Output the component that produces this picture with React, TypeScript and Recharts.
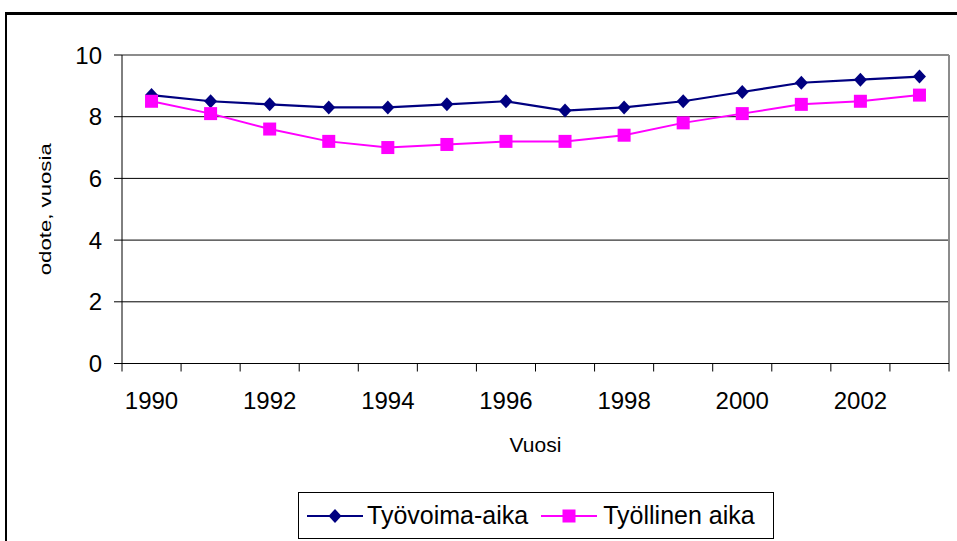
import React from 'react';
import { LineChart, Line, XAxis, YAxis, CartesianGrid, ReferenceLine } from 'recharts';

const years = [1990, 1991, 1992, 1993, 1994, 1995, 1996, 1997, 1998, 1999, 2000, 2001, 2002, 2003];
const tyovoimaAika = [8.7, 8.5, 8.4, 8.3, 8.3, 8.4, 8.5, 8.2, 8.3, 8.5, 8.8, 9.1, 9.2, 9.3];
const tyollinenAika = [8.5, 8.1, 7.6, 7.2, 7.0, 7.1, 7.2, 7.2, 7.4, 7.8, 8.1, 8.4, 8.5, 8.7];
const yTicks = [0, 2, 4, 6, 8, 10];
const xLabelYears = [1990, 1992, 1994, 1996, 1998, 2000, 2002];
const seriesNames = ['Työvoima-aika', 'Työllinen aika'];
const seriesColors = ['#000080', '#FF00FF'];
const yAxisTitle = 'odote, vuosia';
const xAxisTitle = 'Vuosi';

const FONT = "'Liberation Sans', Arial, sans-serif";

const data = years.map((year, i) => ({ i, year, tv: tyovoimaAika[i], ty: tyollinenAika[i] }));
const boundaries = years.map((_, k) => k - 0.5).concat([years.length - 0.5]);
const labelTicks = xLabelYears.map((y) => years.indexOf(y));
const xDomain = [-0.5, years.length - 0.5];

const diamondPath = (cx: number, cy: number) =>
  `M${cx},${cy - 7}L${cx + 6.5},${cy}L${cx},${cy + 7}L${cx - 6.5},${cy}Z`;

const DiamondDot = (p: any) => {
  const { cx, cy, index } = p;
  if (cx == null || cy == null) return <g key={`d${index}`} />;
  return <path key={`d${index}`} d={diamondPath(cx, cy)} fill={seriesColors[0]} />;
};

const SquareDot = (p: any) => {
  const { cx, cy, index } = p;
  if (cx == null || cy == null) return <g key={`s${index}`} />;
  return <rect key={`s${index}`} x={cx - 6.5} y={cy - 6.5} width={13} height={13} fill={seriesColors[1]} />;
};

const YTitle = (props: any) => {
  const vb = props.viewBox || {};
  const cx = vb.x + 9;
  const cy = vb.y + vb.height / 2;
  return (
    <text
      x={cx}
      y={cy}
      transform={`rotate(-90 ${cx} ${cy})`}
      textAnchor="middle"
      fontFamily={FONT}
      fontSize={17}
      fill="#000"
      textLength={132}
      lengthAdjust="spacingAndGlyphs"
    >
      {yAxisTitle}
    </text>
  );
};

const XTitle = (props: any) => {
  const vb = props.viewBox || {};
  return (
    <text x={vb.x + vb.width / 2} y={vb.y + 80.5} textAnchor="middle" fontFamily={FONT} fontSize={21} fill="#000">
      {xAxisTitle}
    </text>
  );
};

const LegendBox = () => (
  <div
    style={{
      position: 'absolute',
      left: 298,
      top: 492,
      width: 476,
      height: 47,
      border: '1px solid #000',
      boxSizing: 'border-box',
      display: 'flex',
      alignItems: 'center',
      fontFamily: FONT,
      fontSize: 25,
      color: '#000',
      background: '#fff',
      paddingLeft: 8,
      whiteSpace: 'nowrap',
    }}
  >
    {seriesNames.map((name, k) => (
      <React.Fragment key={name}>
        <svg width={56} height={20} style={{ marginLeft: k === 0 ? 0 : 13, flex: 'none' }}>
          <line x1={0} y1={10} x2={56} y2={10} stroke={seriesColors[k]} strokeWidth={2} />
          {k === 0 ? (
            <path d={diamondPath(28, 10)} fill={seriesColors[k]} />
          ) : (
            <rect x={21.5} y={3.5} width={13} height={13} fill={seriesColors[k]} />
          )}
        </svg>
        <span style={{ marginLeft: k === 0 ? 4 : 6, lineHeight: '25px' }}>{name}</span>
      </React.Fragment>
    ))}
  </div>
);

export default function App() {
  return (
    <div
      style={{
        position: 'absolute',
        left: 0,
        top: 0,
        width: 957,
        height: 541,
        overflow: 'hidden',
        background: '#fff',
      }}
    >
      <div
        style={{
          position: 'absolute',
          left: 5,
          top: 12,
          width: 1100,
          height: 700,
          borderLeft: '2px solid #000',
          borderTop: '3px solid #000',
        }}
      />
      <div style={{ position: 'absolute', left: 0, top: 0 }}>
        <LineChart width={957} height={541} data={data} margin={{ top: 55, right: 8, bottom: 69.5, left: 42 }}>
          <CartesianGrid vertical={false} stroke="#000" strokeWidth={1} xAxisId="b" />
          <XAxis
            xAxisId="b"
            dataKey="i"
            type="number"
            domain={xDomain}
            ticks={labelTicks}
            interval={0}
            height={100}
            tickSize={0}
            tickMargin={20}
            axisLine={false}
            tickLine={false}
            tickFormatter={(v: number) => String(years[v])}
            tick={{ fill: '#000', fontSize: 24, fontFamily: FONT }}
            label={<XTitle />}
            allowDataOverflow
          />
          <XAxis
            xAxisId="a"
            dataKey="i"
            type="number"
            domain={xDomain}
            ticks={boundaries}
            interval={0}
            height={8}
            tickSize={8}
            tickFormatter={() => ''}
            axisLine={{ stroke: '#000', strokeWidth: 1 }}
            tickLine={{ stroke: '#000', strokeWidth: 1 }}
            allowDataOverflow
          />
          <YAxis
            domain={[0, 10]}
            ticks={yTicks}
            interval={0}
            width={80}
            tickSize={8}
            tickMargin={12}
            axisLine={{ stroke: '#000', strokeWidth: 1 }}
            tickLine={{ stroke: '#000', strokeWidth: 1 }}
            tick={{ fill: '#000', fontSize: 24, fontFamily: FONT }}
            label={<YTitle />}
            allowDataOverflow
          />
          <ReferenceLine xAxisId="b" y={10} stroke="#8c8c8c" strokeWidth={2} />
          <ReferenceLine xAxisId="b" x={years.length - 0.5} stroke="#8c8c8c" strokeWidth={2} />
          <Line
            xAxisId="b"
            dataKey="tv"
            name={seriesNames[0]}
            stroke={seriesColors[0]}
            strokeWidth={2.2}
            dot={(p: any) => <DiamondDot {...p} key={`d${p.index}`} />}
            activeDot={false}
            isAnimationActive={false}
          />
          <Line
            xAxisId="b"
            dataKey="ty"
            name={seriesNames[1]}
            stroke={seriesColors[1]}
            strokeWidth={2}
            dot={(p: any) => <SquareDot {...p} key={`s${p.index}`} />}
            activeDot={false}
            isAnimationActive={false}
          />
        </LineChart>
      </div>
      <LegendBox />
    </div>
  );
}
